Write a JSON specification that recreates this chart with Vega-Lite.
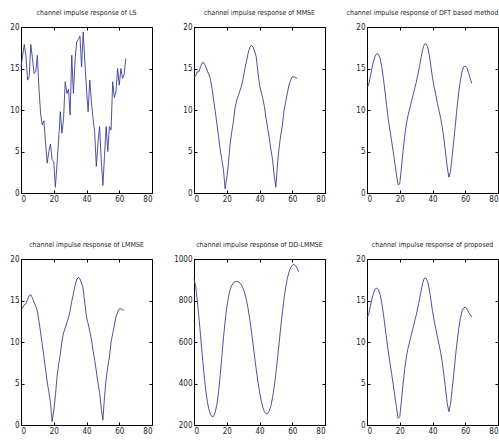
{
  "$schema": "https://vega.github.io/schema/vega-lite/v6.json",
  "background": "white",
  "padding": {"left": 9, "top": 8, "right": 0, "bottom": 0},
  "bounds": "flush",
  "columns": 3,
  "spacing": {"row": 66, "column": 42},
  "datasets": {
    "ls": [
      {"x":0,"y":15.2},{"x":1,"y":16.5},{"x":2,"y":17.9},{"x":3,"y":16.5},{"x":4,"y":13.6},{"x":5,"y":14.0},{"x":6,"y":17.9},{"x":7,"y":16.2},{"x":8,"y":14.4},{"x":9,"y":14.6},
      {"x":10,"y":16.6},{"x":11,"y":12.5},{"x":12,"y":9.5},{"x":13,"y":8.2},{"x":14,"y":8.7},{"x":15,"y":6.0},{"x":16,"y":3.6},{"x":17,"y":5.0},{"x":18,"y":5.9},{"x":19,"y":4.0},
      {"x":20,"y":3.8},{"x":21,"y":0.7},{"x":22,"y":3.5},{"x":23,"y":6.5},{"x":24,"y":9.8},{"x":25,"y":7.2},{"x":26,"y":9.0},{"x":27,"y":13.4},{"x":28,"y":12.0},{"x":29,"y":12.5},
      {"x":30,"y":9.4},{"x":31,"y":16.6},{"x":32,"y":12.0},{"x":33,"y":16.0},{"x":34,"y":18.2},{"x":35,"y":18.5},{"x":36,"y":18.9},{"x":37,"y":15.2},{"x":38,"y":19.4},{"x":39,"y":15.8},
      {"x":40,"y":12.5},{"x":41,"y":9.8},{"x":42,"y":13.6},{"x":43,"y":11.0},{"x":44,"y":9.0},{"x":45,"y":7.3},{"x":46,"y":3.2},{"x":47,"y":6.0},{"x":48,"y":8.0},{"x":49,"y":4.0},
      {"x":50,"y":0.9},{"x":51,"y":4.5},{"x":52,"y":8.0},{"x":53,"y":5.0},{"x":54,"y":8.0},{"x":55,"y":7.6},{"x":56,"y":13.4},{"x":57,"y":11.5},{"x":58,"y":12.2},{"x":59,"y":15.0},
      {"x":60,"y":13.0},{"x":61,"y":15.0},{"x":62,"y":13.8},{"x":63,"y":14.3},{"x":64,"y":16.2}
    ],
    "mmse": [
      {"x":0,"y":14.0},{"x":1,"y":14.1},{"x":2,"y":14.6},{"x":3,"y":14.6},{"x":4,"y":15.2},{"x":5,"y":15.7},{"x":6,"y":15.7},{"x":7,"y":15.3},{"x":8,"y":14.8},{"x":9,"y":14.3},
      {"x":10,"y":13.8},{"x":11,"y":12.6},{"x":12,"y":11.2},{"x":13,"y":9.8},{"x":14,"y":8.3},{"x":15,"y":6.8},{"x":16,"y":5.2},{"x":17,"y":4.0},{"x":18,"y":2.8},{"x":19,"y":0.5},
      {"x":20,"y":1.8},{"x":21,"y":3.5},{"x":22,"y":5.8},{"x":23,"y":7.3},{"x":24,"y":8.5},{"x":25,"y":10.2},{"x":26,"y":11.1},{"x":27,"y":11.7},{"x":28,"y":12.3},{"x":29,"y":12.9},
      {"x":30,"y":13.8},{"x":31,"y":14.9},{"x":32,"y":15.8},{"x":33,"y":16.8},{"x":34,"y":17.5},{"x":35,"y":17.8},{"x":36,"y":17.6},{"x":37,"y":17.1},{"x":38,"y":16.4},{"x":39,"y":14.6},
      {"x":40,"y":13.0},{"x":41,"y":12.2},{"x":42,"y":11.4},{"x":43,"y":10.4},{"x":44,"y":9.0},{"x":45,"y":7.8},{"x":46,"y":6.6},{"x":47,"y":5.2},{"x":48,"y":4.0},{"x":49,"y":2.0},
      {"x":50,"y":0.7},{"x":51,"y":3.5},{"x":52,"y":5.5},{"x":53,"y":7.0},{"x":54,"y":8.2},{"x":55,"y":10.0},{"x":56,"y":11.0},{"x":57,"y":12.0},{"x":58,"y":13.0},{"x":59,"y":13.6},
      {"x":60,"y":14.0},{"x":61,"y":14.0},{"x":62,"y":13.9},{"x":63,"y":13.8}
    ],
    "dft": [
      {"x":0,"y":12.7},{"x":1,"y":13.0},{"x":2,"y":14.0},{"x":3,"y":15.0},{"x":4,"y":15.9},{"x":5,"y":16.5},{"x":6,"y":16.8},{"x":7,"y":16.7},{"x":8,"y":16.2},{"x":9,"y":15.2},
      {"x":10,"y":13.8},{"x":11,"y":12.2},{"x":12,"y":10.5},{"x":13,"y":8.9},{"x":14,"y":7.6},{"x":15,"y":6.3},{"x":16,"y":5.0},{"x":17,"y":3.6},{"x":18,"y":2.2},{"x":19,"y":1.0},
      {"x":20,"y":1.1},{"x":21,"y":3.0},{"x":22,"y":5.0},{"x":23,"y":6.8},{"x":24,"y":8.3},{"x":25,"y":9.3},{"x":26,"y":10.1},{"x":27,"y":10.9},{"x":28,"y":11.7},{"x":29,"y":12.5},
      {"x":30,"y":13.3},{"x":31,"y":14.2},{"x":32,"y":15.2},{"x":33,"y":16.3},{"x":34,"y":17.3},{"x":35,"y":17.9},{"x":36,"y":18.0},{"x":37,"y":17.6},{"x":38,"y":16.7},{"x":39,"y":15.3},
      {"x":40,"y":13.9},{"x":41,"y":12.8},{"x":42,"y":11.8},{"x":43,"y":10.8},{"x":44,"y":9.9},{"x":45,"y":9.0},{"x":46,"y":7.9},{"x":47,"y":6.5},{"x":48,"y":4.8},{"x":49,"y":3.1},
      {"x":50,"y":1.9},{"x":51,"y":2.6},{"x":52,"y":4.4},{"x":53,"y":6.3},{"x":54,"y":8.3},{"x":55,"y":10.3},{"x":56,"y":12.1},{"x":57,"y":13.5},{"x":58,"y":14.6},{"x":59,"y":15.2},
      {"x":60,"y":15.3},{"x":61,"y":15.1},{"x":62,"y":14.5},{"x":63,"y":13.8},{"x":64,"y":13.2}
    ],
    "lmmse": [
      {"x":0,"y":13.9},{"x":1,"y":14.1},{"x":2,"y":14.5},{"x":3,"y":14.6},{"x":4,"y":15.1},{"x":5,"y":15.6},{"x":6,"y":15.7},{"x":7,"y":15.3},{"x":8,"y":14.8},{"x":9,"y":14.3},
      {"x":10,"y":13.7},{"x":11,"y":12.5},{"x":12,"y":11.1},{"x":13,"y":9.7},{"x":14,"y":8.2},{"x":15,"y":6.7},{"x":16,"y":5.2},{"x":17,"y":4.0},{"x":18,"y":2.7},{"x":19,"y":0.4},
      {"x":20,"y":1.7},{"x":21,"y":3.5},{"x":22,"y":5.8},{"x":23,"y":7.3},{"x":24,"y":8.5},{"x":25,"y":10.1},{"x":26,"y":11.1},{"x":27,"y":11.7},{"x":28,"y":12.3},{"x":29,"y":12.9},
      {"x":30,"y":13.8},{"x":31,"y":14.9},{"x":32,"y":15.8},{"x":33,"y":16.8},{"x":34,"y":17.5},{"x":35,"y":17.8},{"x":36,"y":17.6},{"x":37,"y":17.1},{"x":38,"y":16.4},{"x":39,"y":14.6},
      {"x":40,"y":13.0},{"x":41,"y":12.2},{"x":42,"y":11.3},{"x":43,"y":10.3},{"x":44,"y":9.0},{"x":45,"y":7.8},{"x":46,"y":6.5},{"x":47,"y":5.1},{"x":48,"y":3.9},{"x":49,"y":2.0},
      {"x":50,"y":0.6},{"x":51,"y":3.4},{"x":52,"y":5.5},{"x":53,"y":7.0},{"x":54,"y":8.2},{"x":55,"y":10.0},{"x":56,"y":11.0},{"x":57,"y":12.0},{"x":58,"y":13.0},{"x":59,"y":13.6},
      {"x":60,"y":14.0},{"x":61,"y":14.0},{"x":62,"y":13.9},{"x":63,"y":13.8}
    ],
    "dd": [
      {"x":0,"y":905},{"x":1,"y":870},{"x":2,"y":800},{"x":3,"y":720},{"x":4,"y":630},{"x":5,"y":540},{"x":6,"y":455},{"x":7,"y":380},{"x":8,"y":320},{"x":9,"y":278},
      {"x":10,"y":252},{"x":11,"y":240},{"x":12,"y":242},{"x":13,"y":262},{"x":14,"y":300},{"x":15,"y":360},{"x":16,"y":440},{"x":17,"y":530},{"x":18,"y":620},{"x":19,"y":700},
      {"x":20,"y":765},{"x":21,"y":815},{"x":22,"y":850},{"x":23,"y":872},{"x":24,"y":885},{"x":25,"y":891},{"x":26,"y":892},{"x":27,"y":890},{"x":28,"y":884},{"x":29,"y":874},
      {"x":30,"y":858},{"x":31,"y":835},{"x":32,"y":803},{"x":33,"y":762},{"x":34,"y":712},{"x":35,"y":655},{"x":36,"y":594},{"x":37,"y":530},{"x":38,"y":468},{"x":39,"y":411},
      {"x":40,"y":361},{"x":41,"y":319},{"x":42,"y":286},{"x":43,"y":264},{"x":44,"y":254},{"x":45,"y":255},{"x":46,"y":268},{"x":47,"y":293},{"x":48,"y":333},{"x":49,"y":385},
      {"x":50,"y":448},{"x":51,"y":520},{"x":52,"y":597},{"x":53,"y":673},{"x":54,"y":745},{"x":55,"y":810},{"x":56,"y":864},{"x":57,"y":906},{"x":58,"y":937},{"x":59,"y":958},
      {"x":60,"y":970},{"x":61,"y":974},{"x":62,"y":968},{"x":63,"y":955},{"x":64,"y":938}
    ],
    "prop": [
      {"x":0,"y":12.9},{"x":1,"y":13.3},{"x":2,"y":14.3},{"x":3,"y":15.2},{"x":4,"y":15.9},{"x":5,"y":16.4},{"x":6,"y":16.5},{"x":7,"y":16.3},{"x":8,"y":15.7},{"x":9,"y":14.7},
      {"x":10,"y":13.4},{"x":11,"y":11.9},{"x":12,"y":10.3},{"x":13,"y":8.8},{"x":14,"y":7.5},{"x":15,"y":6.2},{"x":16,"y":4.9},{"x":17,"y":3.5},{"x":18,"y":2.1},{"x":19,"y":0.8},
      {"x":20,"y":1.0},{"x":21,"y":2.9},{"x":22,"y":4.9},{"x":23,"y":6.7},{"x":24,"y":8.2},{"x":25,"y":9.2},{"x":26,"y":10.0},{"x":27,"y":10.8},{"x":28,"y":11.6},{"x":29,"y":12.4},
      {"x":30,"y":13.2},{"x":31,"y":14.1},{"x":32,"y":15.1},{"x":33,"y":16.1},{"x":34,"y":17.1},{"x":35,"y":17.7},{"x":36,"y":17.7},{"x":37,"y":17.3},{"x":38,"y":16.4},{"x":39,"y":15.1},
      {"x":40,"y":13.7},{"x":41,"y":12.6},{"x":42,"y":11.6},{"x":43,"y":10.6},{"x":44,"y":9.7},{"x":45,"y":8.7},{"x":46,"y":7.5},{"x":47,"y":6.0},{"x":48,"y":4.3},{"x":49,"y":2.6},
      {"x":50,"y":1.6},{"x":51,"y":2.5},{"x":52,"y":4.3},{"x":53,"y":6.2},{"x":54,"y":8.2},{"x":55,"y":10.0},{"x":56,"y":11.6},{"x":57,"y":12.8},{"x":58,"y":13.7},{"x":59,"y":14.1},
      {"x":60,"y":14.2},{"x":61,"y":14.0},{"x":62,"y":13.6},{"x":63,"y":13.3},{"x":64,"y":13.0}
    ]
  },
  "concat": [
    {"title": "channel impulse response of LS", "width": 131, "height": 166, "data": {"name": "ls"},
     "layer": [
      {"mark": {"type": "line", "color": "#3c3c96", "strokeWidth": 0.9},
       "encoding": {"x": {"field": "x", "type": "quantitative", "title": null, "scale": {"domain": [0, 80]}, "axis": {"orient": "bottom", "values": [0,20,40,60,80]}},
                    "y": {"field": "y", "type": "quantitative", "title": null, "scale": {"domain": [0, 20]}, "axis": {"orient": "left", "values": [0,5,10,15,20]}}}},
      {"mark": {"type": "line", "opacity": 0},
       "encoding": {"x": {"field": "x", "type": "quantitative", "title": null, "axis": {"orient": "top", "labels": false, "values": [0,20,40,60,80]}},
                    "y": {"field": "y", "type": "quantitative", "title": null, "axis": {"orient": "right", "labels": false, "values": [0,5,10,15,20]}}}}
     ],
     "resolve": {"axis": {"x": "independent", "y": "independent"}}},
    {"title": "channel impulse response of MMSE", "width": 131, "height": 166, "data": {"name": "mmse"},
     "layer": [
      {"mark": {"type": "line", "color": "#3c3c96", "strokeWidth": 0.9},
       "encoding": {"x": {"field": "x", "type": "quantitative", "title": null, "scale": {"domain": [0, 80]}, "axis": {"orient": "bottom", "values": [0,20,40,60,80]}},
                    "y": {"field": "y", "type": "quantitative", "title": null, "scale": {"domain": [0, 20]}, "axis": {"orient": "left", "values": [0,5,10,15,20]}}}},
      {"mark": {"type": "line", "opacity": 0},
       "encoding": {"x": {"field": "x", "type": "quantitative", "title": null, "axis": {"orient": "top", "labels": false, "values": [0,20,40,60,80]}},
                    "y": {"field": "y", "type": "quantitative", "title": null, "axis": {"orient": "right", "labels": false, "values": [0,5,10,15,20]}}}}
     ],
     "resolve": {"axis": {"x": "independent", "y": "independent"}}},
    {"title": {"text": "channel impulse response of DFT based method", "dx": -10}, "width": 131, "height": 166, "data": {"name": "dft"},
     "layer": [
      {"mark": {"type": "line", "color": "#3c3c96", "strokeWidth": 0.9},
       "encoding": {"x": {"field": "x", "type": "quantitative", "title": null, "scale": {"domain": [0, 80]}, "axis": {"orient": "bottom", "values": [0,20,40,60,80]}},
                    "y": {"field": "y", "type": "quantitative", "title": null, "scale": {"domain": [0, 20]}, "axis": {"orient": "left", "values": [0,5,10,15,20]}}}},
      {"mark": {"type": "line", "opacity": 0},
       "encoding": {"x": {"field": "x", "type": "quantitative", "title": null, "axis": {"orient": "top", "labels": false, "values": [0,20,40,60,80]}},
                    "y": {"field": "y", "type": "quantitative", "title": null, "axis": {"orient": "right", "labels": false, "values": [0,5,10,15,20]}}}}
     ],
     "resolve": {"axis": {"x": "independent", "y": "independent"}}},
    {"title": "channel impulse response of LMMSE", "width": 131, "height": 166, "data": {"name": "lmmse"},
     "layer": [
      {"mark": {"type": "line", "color": "#3c3c96", "strokeWidth": 0.9},
       "encoding": {"x": {"field": "x", "type": "quantitative", "title": null, "scale": {"domain": [0, 80]}, "axis": {"orient": "bottom", "values": [0,20,40,60,80]}},
                    "y": {"field": "y", "type": "quantitative", "title": null, "scale": {"domain": [0, 20]}, "axis": {"orient": "left", "values": [0,5,10,15,20]}}}},
      {"mark": {"type": "line", "opacity": 0},
       "encoding": {"x": {"field": "x", "type": "quantitative", "title": null, "axis": {"orient": "top", "labels": false, "values": [0,20,40,60,80]}},
                    "y": {"field": "y", "type": "quantitative", "title": null, "axis": {"orient": "right", "labels": false, "values": [0,5,10,15,20]}}}}
     ],
     "resolve": {"axis": {"x": "independent", "y": "independent"}}},
    {"title": "channel impulse response of DD-LMMSE", "width": 131, "height": 166, "data": {"name": "dd"},
     "layer": [
      {"mark": {"type": "line", "color": "#3c3c96", "strokeWidth": 0.9},
       "encoding": {"x": {"field": "x", "type": "quantitative", "title": null, "scale": {"domain": [0, 80]}, "axis": {"orient": "bottom", "values": [0,20,40,60,80]}},
                    "y": {"field": "y", "type": "quantitative", "title": null, "scale": {"domain": [200, 1000]}, "axis": {"orient": "left", "values": [200,400,600,800,1000], "format": "d"}}}},
      {"mark": {"type": "line", "opacity": 0},
       "encoding": {"x": {"field": "x", "type": "quantitative", "title": null, "axis": {"orient": "top", "labels": false, "values": [0,20,40,60,80]}},
                    "y": {"field": "y", "type": "quantitative", "title": null, "axis": {"orient": "right", "labels": false, "values": [200,400,600,800,1000]}}}}
     ],
     "resolve": {"axis": {"x": "independent", "y": "independent"}}},
    {"title": "channel impulse response of proposed", "width": 131, "height": 166, "data": {"name": "prop"},
     "layer": [
      {"mark": {"type": "line", "color": "#3c3c96", "strokeWidth": 0.9},
       "encoding": {"x": {"field": "x", "type": "quantitative", "title": null, "scale": {"domain": [0, 80]}, "axis": {"orient": "bottom", "values": [0,20,40,60,80]}},
                    "y": {"field": "y", "type": "quantitative", "title": null, "scale": {"domain": [0, 20]}, "axis": {"orient": "left", "values": [0,5,10,15,20]}}}},
      {"mark": {"type": "line", "opacity": 0},
       "encoding": {"x": {"field": "x", "type": "quantitative", "title": null, "axis": {"orient": "top", "labels": false, "values": [0,20,40,60,80]}},
                    "y": {"field": "y", "type": "quantitative", "title": null, "axis": {"orient": "right", "labels": false, "values": [0,5,10,15,20]}}}}
     ],
     "resolve": {"axis": {"x": "independent", "y": "independent"}}}
  ],
  "config": {
    "view": {"stroke": "#000", "strokeWidth": 1},
    "axis": {"domain": false, "grid": false, "tickSize": -3, "tickColor": "#000", "labelFont": "DejaVu Sans Condensed", "labelFontSize": 8, "labelColor": "#222", "labelPadding": 5},
    "title": {"font": "DejaVu Sans Condensed", "fontSize": 7, "fontWeight": "normal", "color": "#222", "offset": 7, "anchor": "middle"}
  }
}
